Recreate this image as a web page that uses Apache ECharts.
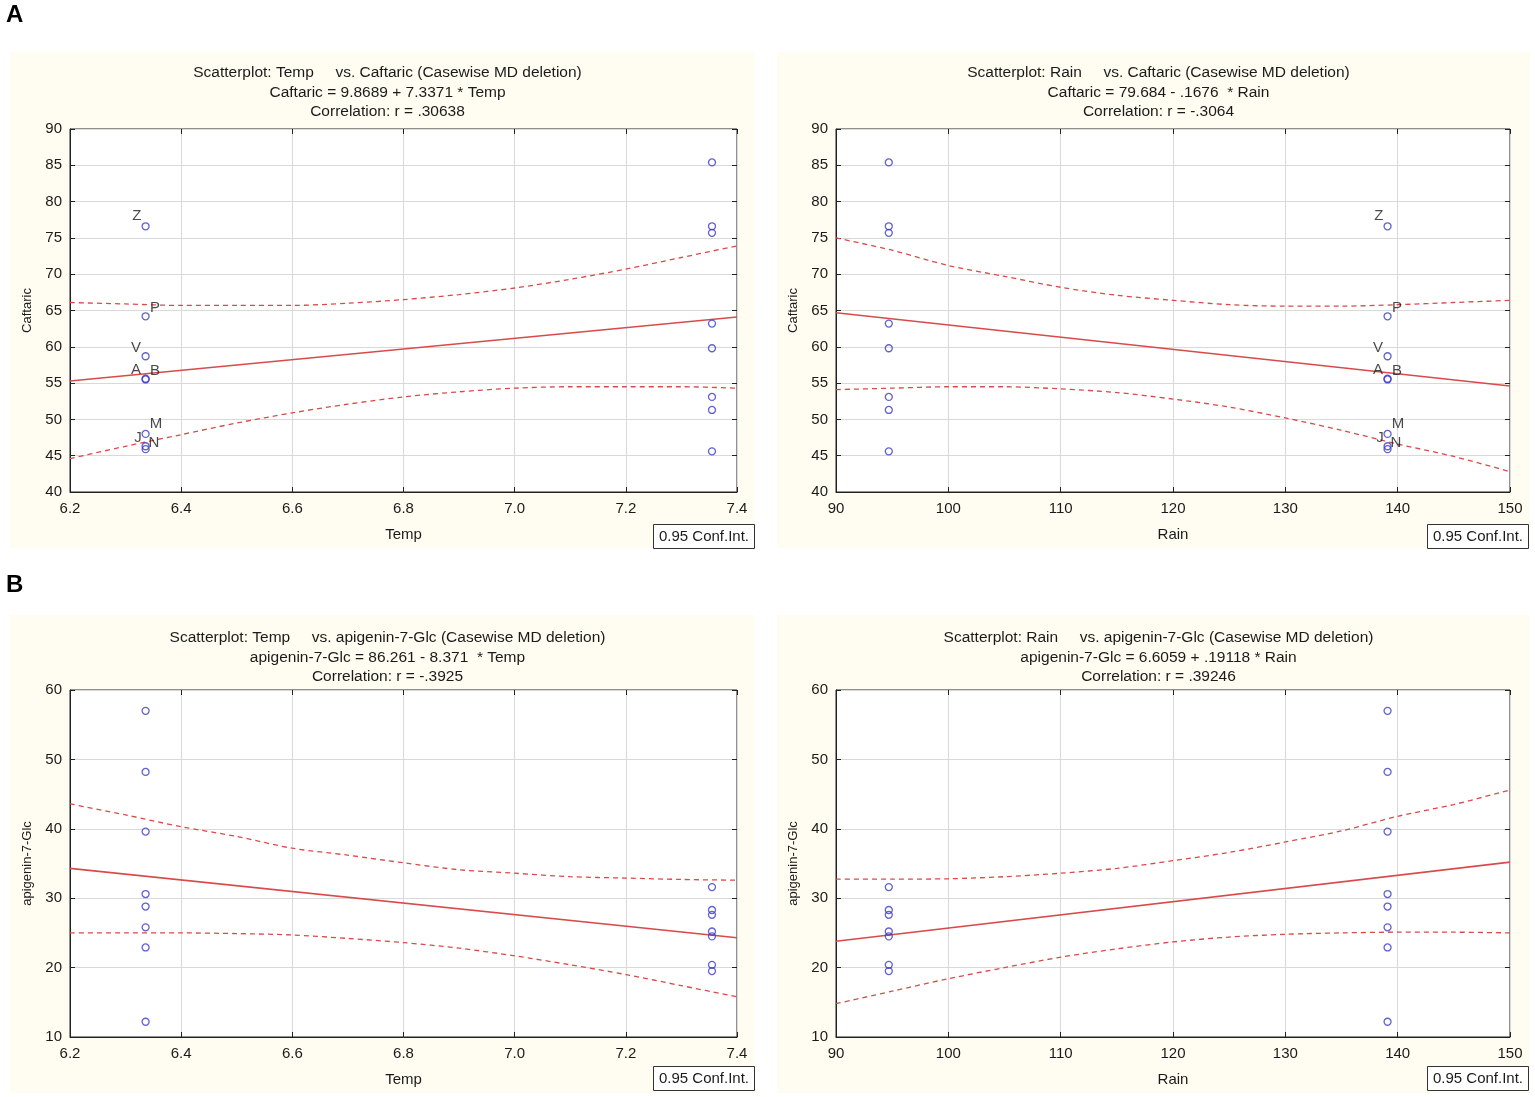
<!DOCTYPE html>
<html>
<head>
<meta charset="utf-8">
<script src="https://cdn.jsdelivr.net/npm/echarts@6/dist/echarts.min.js"></script>
<style>
  html, body { margin: 0; padding: 0; background: #fff; }
  #main { width: 1535px; height: 1097px; }
</style>
</head>
<body>
<div id="main"></div>
<script>
// point names (only shown on the caftaric panels)
const pointNames = ["Z", "P", "V", "A", "B", "M", "J", "N"];

// the two sampled sites: temp and rain for each
const tempLevels = [6.336, 7.355];
const rainLevels = [139.1, 94.7];

// caftaric at the cool/wet site and at the warm/dry site
const caftaricSite1 = [76.6, 64.2, 58.7, 55.6, 55.5, 48.0, 46.3, 45.9];
const caftaricSite2 = [85.4, 76.6, 75.7, 63.2, 59.8, 53.1, 51.3, 45.6];

// apigenin-7-Glc at the same two sites
const apigeninSite1 = [57.0, 48.2, 39.6, 30.6, 28.8, 25.8, 22.9, 12.2];
const apigeninSite2 = [31.6, 28.3, 27.6, 25.2, 24.5, 20.4, 19.5];

// x positions where the fit and its 0.95 band were read
const tempSteps = [6.2, 6.3, 6.4, 6.5, 6.6, 6.7, 6.8, 6.9, 7.0, 7.1, 7.2, 7.3, 7.4];
const rainSteps = [90, 95, 100, 105, 110, 115, 120, 125, 130, 135, 140, 145, 150];
const tempEnds = [6.2, 7.4];
const rainEnds = [90, 150];

const caftTempFit = [55.3, 64.1];
const caftTempUpper = [66.1, 65.9, 65.7, 65.7, 65.7, 66.0, 66.5, 67.2, 68.1, 69.3, 70.7, 72.3, 73.9];
const caftTempLower = [44.6, 46.3, 47.9, 49.5, 50.9, 52.1, 53.1, 53.8, 54.3, 54.5, 54.5, 54.5, 54.3];

const caftRainFit = [64.7, 54.6];
const caftRainUpper = [75.0, 73.3, 71.2, 69.7, 68.2, 67.1, 66.4, 65.8, 65.6, 65.6, 65.8, 66.1, 66.4];
const caftRainLower = [54.1, 54.3, 54.5, 54.5, 54.2, 53.7, 52.8, 51.7, 50.2, 48.5, 46.6, 44.9, 42.8];

const apiTempFit = [34.3, 24.3];
const apiTempUpper = [43.6, 42.0, 40.3, 38.9, 37.2, 36.2, 35.1, 34.1, 33.6, 33.1, 32.9, 32.7, 32.6];
const apiTempLower = [25.0, 25.0, 25.0, 24.9, 24.7, 24.2, 23.6, 22.8, 21.7, 20.4, 19.0, 17.4, 15.8];

const apiRainFit = [23.8, 35.2];
const apiRainUpper = [32.75, 32.75, 32.8, 33.1, 33.6, 34.3, 35.4, 36.6, 38.1, 39.7, 41.8, 43.5, 45.6];
const apiRainLower = [14.8, 16.6, 18.4, 20.0, 21.5, 22.7, 23.7, 24.4, 24.8, 25.0, 25.1, 25.1, 25.0];

// where each point label sits, relative to its circle (px)
const labelOffset = { Z: [-8, -10], P: [10, -8], V: [-9, -8], A: [-9, -8], B: [10, -8], M: [11, -9], J: [-7, -8], N: [9, -6] };

const RED = "#d84b4b";
const BLUE = "#3b3bc8";
const INK = "#1a1a1a";
const FONT = "'Liberation Sans', Arial, sans-serif";

const zip = (xs, ys) => ys.map((y, i) => [xs[i], y]);

const panels = [
  {
    box: [10, 52, 745, 496],
    grid: { left: 70, top: 129, width: 667, height: 363 },
    x: { min: 6.2, max: 7.4, interval: 0.2, dec: 1, name: "Temp" },
    y: { min: 40, max: 90, interval: 5, name: "Caftaric" },
    title: "Scatterplot: Temp     vs. Caftaric (Casewise MD deletion)\nCaftaric = 9.8689 + 7.3371 * Temp\nCorrelation: r = .30638",
    titleTop: 58,
    site1: tempLevels[0], site2: tempLevels[1],
    y1: caftaricSite1, y2: caftaricSite2, labels: true,
    steps: tempSteps, ends: tempEnds, fit: caftTempFit, upper: caftTempUpper, lower: caftTempLower
  },
  {
    box: [777, 52, 753, 496],
    grid: { left: 836, top: 129, width: 674, height: 363 },
    x: { min: 90, max: 150, interval: 10, dec: 0, name: "Rain" },
    y: { min: 40, max: 90, interval: 5, name: "Caftaric" },
    title: "Scatterplot: Rain     vs. Caftaric (Casewise MD deletion)\nCaftaric = 79.684 - .1676  * Rain\nCorrelation: r = -.3064",
    titleTop: 58,
    site1: rainLevels[0], site2: rainLevels[1],
    y1: caftaricSite1, y2: caftaricSite2, labels: true,
    steps: rainSteps, ends: rainEnds, fit: caftRainFit, upper: caftRainUpper, lower: caftRainLower
  },
  {
    box: [10, 615, 745, 478],
    grid: { left: 70, top: 690, width: 667, height: 347 },
    x: { min: 6.2, max: 7.4, interval: 0.2, dec: 1, name: "Temp" },
    y: { min: 10, max: 60, interval: 10, name: "apigenin-7-Glc" },
    title: "Scatterplot: Temp     vs. apigenin-7-Glc (Casewise MD deletion)\napigenin-7-Glc = 86.261 - 8.371  * Temp\nCorrelation: r = -.3925",
    titleTop: 623,
    site1: tempLevels[0], site2: tempLevels[1],
    y1: apigeninSite1, y2: apigeninSite2, labels: false,
    steps: tempSteps, ends: tempEnds, fit: apiTempFit, upper: apiTempUpper, lower: apiTempLower
  },
  {
    box: [777, 615, 753, 478],
    grid: { left: 836, top: 690, width: 674, height: 347 },
    x: { min: 90, max: 150, interval: 10, dec: 0, name: "Rain" },
    y: { min: 10, max: 60, interval: 10, name: "apigenin-7-Glc" },
    title: "Scatterplot: Rain     vs. apigenin-7-Glc (Casewise MD deletion)\napigenin-7-Glc = 6.6059 + .19118 * Rain\nCorrelation: r = .39246",
    titleTop: 623,
    site1: rainLevels[0], site2: rainLevels[1],
    y1: apigeninSite1, y2: apigeninSite2, labels: false,
    steps: rainSteps, ends: rainEnds, fit: apiRainFit, upper: apiRainUpper, lower: apiRainLower
  }
];

const grid = [], xAxis = [], yAxis = [], series = [], title = [], graphic = [];

panels.forEach((p, i) => {
  const [bx, by, bw, bh] = p.box;
  graphic.push({ type: "rect", z: -10, shape: { x: bx, y: by, width: bw, height: bh }, style: { fill: "#fffdf1" } });
  // conf. int. key box under the lower right corner
  const gx = p.grid.left + p.grid.width;
  const gy = p.grid.top + p.grid.height;
  graphic.push({
    type: "group", left: gx - 84 + (i % 2 ? 1 : 0), top: gy + 32 - (i > 1 ? 3 : 0),
    children: [
      { type: "rect", shape: { x: 0, y: 0, width: 101, height: 24 }, style: { fill: "#fff", stroke: "#333", lineWidth: 1 } },
      { type: "text", x: 50.5, y: 12.5, style: { text: "0.95 Conf.Int.", font: "15px " + FONT, fill: INK, align: "center", verticalAlign: "middle" } }
    ]
  });

  title.push({
    text: p.title, left: bx + bw / 2, top: p.titleTop, textAlign: "center",
    textStyle: { fontFamily: FONT, fontSize: 15.5, fontWeight: "normal", color: INK, lineHeight: 19.5 }
  });

  grid.push(Object.assign({ show: true, backgroundColor: "#fff", borderColor: "#222", borderWidth: 1 }, p.grid));

  const tick = { show: true, inside: true, length: 5, lineStyle: { color: "#222" } };
  const xLabel = { color: INK, fontFamily: FONT, fontSize: 15, margin: 9, formatter: v => v.toFixed(p.x.dec) };
  const yLabel = { color: INK, fontFamily: FONT, fontSize: 15, margin: 8 };
  xAxis.push({
    gridIndex: i, type: "value", min: p.x.min, max: p.x.max, interval: p.x.interval,
    name: p.x.name, nameLocation: "middle", nameGap: 35,
    nameTextStyle: { color: INK, fontFamily: FONT, fontSize: 15 },
    axisLine: { lineStyle: { color: "#222" } }, axisTick: tick, axisLabel: xLabel,
    splitLine: { show: true, lineStyle: { color: "#d9d9d9", width: 1 } }
  });
  xAxis.push({
    gridIndex: i, type: "value", position: "top", min: p.x.min, max: p.x.max, interval: p.x.interval,
    axisLine: { show: false }, axisTick: tick, axisLabel: { show: false }, splitLine: { show: false }
  });
  yAxis.push({
    gridIndex: i, type: "value", min: p.y.min, max: p.y.max, interval: p.y.interval,
    name: p.y.name, nameLocation: "middle", nameGap: 36, nameRotate: 90,
    nameTextStyle: { color: INK, fontFamily: FONT, fontSize: 13 },
    axisLine: { show: true, lineStyle: { color: "#222" } }, axisTick: tick, axisLabel: yLabel,
    splitLine: { show: true, lineStyle: { color: "#d9d9d9", width: 1 } }
  });
  yAxis.push({
    gridIndex: i, type: "value", position: "right", min: p.y.min, max: p.y.max, interval: p.y.interval,
    axisLine: { show: false }, axisTick: tick, axisLabel: { show: false }, splitLine: { show: false }
  });

  const xi = i * 2, yi = i * 2;
  const line = (data, dashed, width) => ({
    type: "line", xAxisIndex: xi, yAxisIndex: yi, data, showSymbol: false, symbol: "none",
    smooth: dashed ? 0.3 : false, silent: true, z: 2,
    lineStyle: { color: RED, width, type: dashed ? [5, 4] : "solid" }
  });
  series.push(line(zip(p.ends, p.fit), false, 1.6));
  series.push(line(zip(p.steps, p.upper), true, 1.3));
  series.push(line(zip(p.steps, p.lower), true, 1.3));

  const pts = [];
  p.y1.forEach((v, k) => {
    const item = { value: [p.site1, v] };
    if (p.labels) {
      const name = pointNames[k];
      const off = labelOffset[name];
      item.label = {
        show: true, formatter: name, position: [off[0] + 3.5, off[1] + 3.5],
        align: "center", verticalAlign: "middle", color: INK, fontFamily: FONT, fontSize: 15
      };
    }
    pts.push(item);
  });
  p.y2.forEach(v => pts.push({ value: [p.site2, v] }));
  series.push({
    type: "scatter", xAxisIndex: xi, yAxisIndex: yi, data: pts, symbol: "circle", symbolSize: 7, z: 3,
    itemStyle: { color: "rgba(255,255,255,0)", borderColor: BLUE, borderWidth: 1.3 }
  });
});

graphic.push({ type: "text", left: 6, top: 3, style: { text: "A", font: "bold 24px " + FONT, fill: "#000" } });
graphic.push({ type: "text", left: 6, top: 573, style: { text: "B", font: "bold 24px " + FONT, fill: "#000" } });

const chart = echarts.init(document.getElementById("main"));
chart.setOption({ animation: false, backgroundColor: "#fff", title, grid, xAxis, yAxis, series, graphic });
</script>
</body>
</html>
